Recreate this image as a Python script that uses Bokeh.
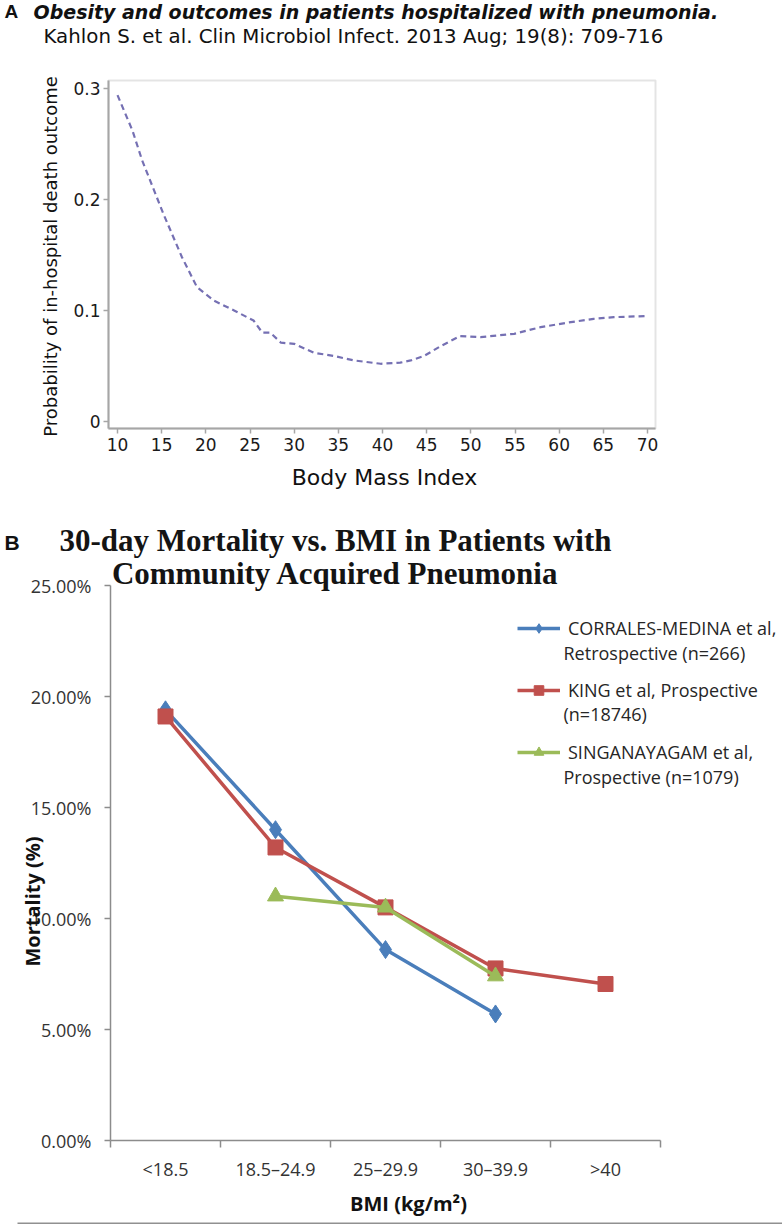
import math
from bokeh.plotting import figure
from bokeh.models import (Label, Legend, LegendItem, FixedTicker, CustomJSTickFormatter,
                          PrintfTickFormatter, Range1d, BoxAnnotation)
from bokeh.layouts import column
from bokeh.embed import file_html
from bokeh.resources import INLINE

# ---------------- Panel A data ----------------
bmi = [10, 11.7, 12.8, 15.2, 17.3, 19.0, 20.9, 23.2, 25.4, 26.4, 27.3, 28.5, 30.0,
       32.2, 34.5, 36.8, 39.8, 42.0, 43.2, 44.7, 46.6, 48.8, 51.1, 54.9, 57.9,
       60.9, 63.9, 66.2, 69.8]
prob = [0.294, 0.262, 0.235, 0.187, 0.148, 0.121, 0.109, 0.100, 0.091, 0.080, 0.080,
        0.071, 0.070, 0.062, 0.059, 0.055, 0.052, 0.053, 0.055, 0.059, 0.068, 0.077,
        0.076, 0.079, 0.085, 0.089, 0.0925, 0.094, 0.095]
a_xticks = [10, 15, 20, 25, 30, 35, 40, 45, 50, 55, 60, 65, 70]
a_yticks = [0, 0.1, 0.2, 0.3]

# ---------------- Panel B data ----------------
categories = ["<18.5", "18.5\u201324.9", "25\u201329.9", "30\u201339.9", ">40"]
corrales_cats = ["<18.5", "18.5\u201324.9", "25\u201329.9", "30\u201339.9"]
corrales_vals = [19.4, 14.0, 8.6, 5.7]
king_cats = ["<18.5", "18.5\u201324.9", "25\u201329.9", "30\u201339.9", ">40"]
king_vals = [19.1, 13.2, 10.5, 7.75, 7.05]
sing_cats = ["18.5\u201324.9", "25\u201329.9", "30\u201339.9"]
sing_vals = [11.0, 10.5, 7.4]
b_yticks = [0, 5, 10, 15, 20, 25]

# ---------------- layout geometry (pixels) ----------------
W, HA, HB = 782, 505, 719
A_PX = (647 - 117) / 60.0      # px per BMI unit
A_PY = (421 - 88) / 0.3        # px per probability unit
def a_x(px): return 10 + (px - 117) / A_PX
def a_y(py): return (421 - py) / A_PY
B_PX = 110.0                   # px per category
B_PY = (1140 - 585) / 25.0     # px per percent
def b_x(px): return (px - 110) / B_PX
def b_y(py): return (1140 - py) / B_PY

def lab(p, x, y, text, **kw):
    p.add_layout(Label(x=x, y=y, x_units="screen", y_units="screen", text=text, **kw))

# =============== Figure A ===============
GRAY_A = "#a6a6a6"
pA = figure(width=W, height=HA, output_backend="svg", toolbar_location=None,
            x_range=Range1d(a_x(0), a_x(W)), y_range=Range1d(a_y(HA), a_y(0)),
            min_border=0)
pA.grid.visible = False
pA.outline_line_color = None
box = (a_x(108), a_x(655), a_y(428), a_y(80))
pA.add_layout(BoxAnnotation(left=box[0], right=box[1], bottom=box[2], top=box[3],
                            fill_alpha=0, line_color=GRAY_A, line_width=2))
pA.line(bmi, prob, line_color="#7570b3", line_width=2.2, line_dash="6 4")

for ax in (pA.xaxis[0], pA.yaxis[0]):
    ax.axis_line_color = GRAY_A
    ax.axis_line_width = 2
    ax.major_tick_line_color = GRAY_A
    ax.major_tick_line_width = 1.5
    ax.major_tick_in = 0
    ax.major_tick_out = 5
    ax.minor_tick_in = 0
    ax.minor_tick_out = 0
    ax.major_label_text_font = "DejaVu Sans"
    ax.major_label_text_font_size = "17px"
    ax.major_label_text_color = "#1a1a1a"

pA.xaxis.ticker = FixedTicker(ticks=a_xticks)
pA.yaxis.ticker = FixedTicker(ticks=a_yticks)
pA.xaxis.fixed_location = box[2]
pA.yaxis.fixed_location = box[0]
pA.xaxis.bounds = (box[0], box[1])
pA.yaxis.bounds = (box[2], box[3])
pA.yaxis.major_label_overrides = {0: "0"}
pA.xaxis.major_label_standoff = 4
pA.yaxis.major_label_standoff = 3

TA = "#111111"
lab(pA, 4, HA - 11, "A", text_font="Liberation Sans", text_font_style="bold",
    text_font_size="19px", text_color=TA, text_baseline="middle")
lab(pA, 33, HA - 11, "Obesity and outcomes in patients hospitalized with pneumonia.",
    text_font="DejaVu Sans", text_font_style="bold italic", text_font_size="19px",
    text_color=TA, text_baseline="middle")
lab(pA, 43, HA - 36, "Kahlon S. et al. Clin Microbiol Infect. 2013 Aug; 19(8): 709-716",
    text_font="DejaVu Sans", text_font_size="19.8px", text_color=TA,
    text_baseline="middle")
lab(pA, 384, HA - 477, "Body Mass Index", text_font="DejaVu Sans",
    text_font_size="22px", text_color=TA, text_align="center", text_baseline="middle")
lab(pA, 50, HA - 256, "Probability of in-hospital death outcome", angle=math.pi / 2,
    text_font="DejaVu Sans", text_font_size="18px", text_color=TA,
    text_align="center", text_baseline="middle")

# =============== Figure B ===============
B0 = 505 + HB   # page y of figure B bottom
pB = figure(width=W, height=HB, output_backend="svg", toolbar_location=None,
            x_range=Range1d(b_x(0), b_x(W)), y_range=Range1d(b_y(B0), b_y(505)),
            min_border=0)
pB.grid.visible = False
pB.outline_line_color = None

cat_pos = {c: i + 0.5 for i, c in enumerate(categories)}
BLUE, RED, GREEN = "#4a7ebb", "#c0504d", "#9bbb59"
cx = [cat_pos[c] for c in corrales_cats]
kx = [cat_pos[c] for c in king_cats]
sx = [cat_pos[c] for c in sing_cats]

l1 = pB.line(cx, corrales_vals, line_color=BLUE, line_width=3.5)
m1 = pB.scatter(cx, corrales_vals, marker="diamond", size=18, fill_color=BLUE, line_color=BLUE)
l2 = pB.line(kx, king_vals, line_color=RED, line_width=3.5)
m2 = pB.scatter(kx, king_vals, marker="square", size=15, fill_color=RED, line_color=RED)
l3 = pB.line(sx, sing_vals, line_color=GREEN, line_width=3.5)
m3 = pB.scatter(sx, sing_vals, marker="triangle", size=16, fill_color=GREEN, line_color=GREEN)

GRAY_B = "#8c8c8c"
for ax in (pB.xaxis[0], pB.yaxis[0]):
    ax.axis_line_color = GRAY_B
    ax.axis_line_width = 1.5
    ax.major_tick_line_color = GRAY_B
    ax.minor_tick_line_color = GRAY_B
    ax.major_tick_line_width = 1.5
    ax.minor_tick_line_width = 1.5
    ax.major_tick_in = 0
    ax.minor_tick_in = 0
    ax.major_label_text_font = "Open Sans"
    ax.major_label_text_font_size = "18px"
    ax.major_label_text_color = "#333333"

pB.yaxis.ticker = FixedTicker(ticks=b_yticks, minor_ticks=[])
pB.yaxis.formatter = PrintfTickFormatter(format="%.2f%%")
pB.yaxis.major_tick_out = 6
pB.yaxis.minor_tick_out = 0
pB.yaxis.major_label_standoff = 13
pB.yaxis.fixed_location = 0
pB.yaxis.bounds = (0, 25)

pB.xaxis.ticker = FixedTicker(ticks=[cat_pos[c] for c in categories],
                              minor_ticks=list(range(len(categories) + 1)))
pB.xaxis.formatter = CustomJSTickFormatter(args=dict(cats=categories),
                                           code="return cats[Math.floor(tick)] || '';")
pB.xaxis.major_tick_out = 0
pB.xaxis.minor_tick_out = 7
pB.xaxis.major_label_standoff = 9
pB.xaxis.fixed_location = 0
pB.xaxis.bounds = (0, len(categories))

legend = Legend(items=[
    LegendItem(label="CORRALES-MEDINA et al,", renderers=[l1, m1]),
    LegendItem(label="KING et al, Prospective", renderers=[l2, m2]),
    LegendItem(label="SINGANAYAGAM et al,", renderers=[l3, m3]),
], location=(517, B0 - 764), glyph_width=43, glyph_height=24, label_standoff=8,
    label_height=24, spacing=38, padding=0, margin=0, border_line_color=None,
    background_fill_alpha=0, label_text_font="Open Sans", label_text_font_size="18px",
    label_text_color="#262626")
pB.add_layout(legend)

TB = "#262626"
for txt, py in (("Retrospective (n=266)", 652), ("(n=18746)", 713),
                ("Prospective (n=1079)", 776)):
    lab(pB, 563, B0 - py, txt, text_font="Open Sans", text_font_size="18px",
        text_color=TB, text_baseline="middle")

lab(pB, 4, B0 - 542, "B", text_font="Liberation Sans", text_font_style="bold",
    text_font_size="21px", text_color="#111111", text_baseline="middle")
lab(pB, 335, B0 - 540, "30-day Mortality vs. BMI in Patients with",
    text_font="Liberation Serif", text_font_style="bold", text_font_size="31px",
    text_color="#141414", text_align="center", text_baseline="middle")
lab(pB, 335, B0 - 573, "Community Acquired Pneumonia",
    text_font="Liberation Serif", text_font_style="bold", text_font_size="31px",
    text_color="#141414", text_align="center", text_baseline="middle")
lab(pB, 32, B0 - 901, "Mortality (%)", angle=math.pi / 2,
    text_font="Open Sans", text_font_style="bold", text_font_size="20px",
    text_color="#111111", text_align="center", text_baseline="middle")
lab(pB, 408, B0 - 1203, "BMI (kg/m\u00b2)",
    text_font="Open Sans", text_font_style="bold", text_font_size="20px",
    text_color="#111111", text_align="center", text_baseline="middle")
pB.add_layout(BoxAnnotation(left=17, right=W, bottom=B0 - 1224, top=B0 - 1222,
                            left_units="screen", right_units="screen",
                            bottom_units="screen", top_units="screen",
                            fill_color="#909090", fill_alpha=1, line_color=None))

layout = column(pA, pB, spacing=0)
open("out.html", "w").write(file_html(layout, INLINE))
